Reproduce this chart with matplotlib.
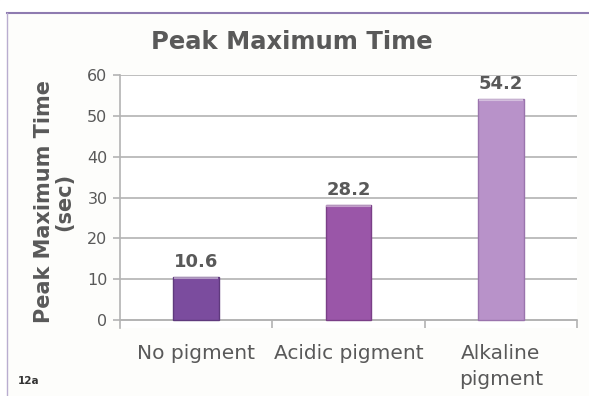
import matplotlib.pyplot as plt
from matplotlib.lines import Line2D

categories = ['No pigment', 'Acidic pigment', 'Alkaline\npigment']
peak_times = [10.6, 28.2, 54.2]
bar_colors = ['#7b4c9e', '#9a56a8', '#b892c9']
edge_colors = ['#5f3a7d', '#7a3f87', '#9a74ad']
y_ticks = [0, 10, 20, 30, 40, 50, 60]

text_grey = '#595959'
line_grey = '#b3b3b3'

fig = plt.figure(figsize=(5.89, 3.96), dpi=100, facecolor='#fdfdfb')
ax = fig.add_axes([120 / 589, 1 - 328 / 396, 457 / 589, 253 / 396])
ax.set_facecolor('white')

# spines first: moving the bottom spine resets the x ticks
for s in ['top', 'right']:
    ax.spines[s].set_visible(False)
ax.spines['bottom'].set_position(('data', 0))
ax.spines['bottom'].set_color(line_grey)
ax.spines['bottom'].set_linewidth(1.2)
ax.spines['left'].set_color(line_grey)
ax.spines['left'].set_linewidth(1.2)

x = range(len(categories))
bars = ax.bar(x, peak_times, width=0.30, color=bar_colors,
              edgecolor=edge_colors, linewidth=1.0, zorder=3)

# lighter bevel along the top of each bar
for b in bars:
    ax.plot([b.get_x() + 0.01, b.get_x() + b.get_width() - 0.01],
            [b.get_height() - 0.3, b.get_height() - 0.3],
            color='white', alpha=0.45, lw=1.5, zorder=4)

for xi, v in zip(x, peak_times):
    ax.text(xi, v + 1.5, f'{v}', ha='center', va='bottom',
            fontsize=13, fontweight='bold', color=text_grey)

ax.set_xlim(-0.5, 2.5)
ax.set_ylim(-1.9, 60)
ax.tick_params(axis='x', length=0, pad=17, labelsize=14.5, labelcolor=text_grey)
ax.tick_params(axis='y', length=5, color=line_grey, width=1.2, pad=4,
               labelsize=11.5, labelcolor=text_grey)
ax.set_yticks(y_ticks)
ax.set_yticklabels([str(t) for t in y_ticks])
ax.set_xticks([0.5, 1.5, 2.5], minor=True)
ax.tick_params(axis='x', which='minor', length=6, color=line_grey, width=1.2)
ax.set_xticks(list(x))
ax.set_xticklabels(categories, linespacing=1.45)

ax.grid(axis='y', color=line_grey, lw=1.2, zorder=0)

ax.set_ylabel('Peak Maximum Time\n(sec)', fontsize=15, fontweight='bold',
              color=text_grey, labelpad=9, linespacing=1.05)

fig.text(292 / 589, 1 - 42 / 396, 'Peak Maximum Time', ha='center', va='center',
         fontsize=17.5, fontweight='bold', color=text_grey)
fig.text(18 / 589, 1 - 381 / 396, '12a', ha='left', va='center',
         fontsize=7.5, fontweight='bold', color='#333333')

# purple frame along top and left edges
fig.patches.append(plt.Rectangle((0, 1 - 13 / 396), 1, 13 / 396, color='white',
                                 transform=fig.transFigure, zorder=-1))
fig.patches.append(plt.Rectangle((0, 0), 7 / 589, 1, color='white',
                                 transform=fig.transFigure, zorder=-1))
fig.add_artist(Line2D([7 / 589, 1], [1 - 13 / 396, 1 - 13 / 396],
                      color='#8e7bb0', lw=1.5, transform=fig.transFigure))
fig.add_artist(Line2D([7 / 589, 7 / 589], [0, 1 - 13 / 396],
                      color='#b9add0', lw=1.0, transform=fig.transFigure))

fig.savefig('out.png', dpi=100, facecolor=fig.get_facecolor())
